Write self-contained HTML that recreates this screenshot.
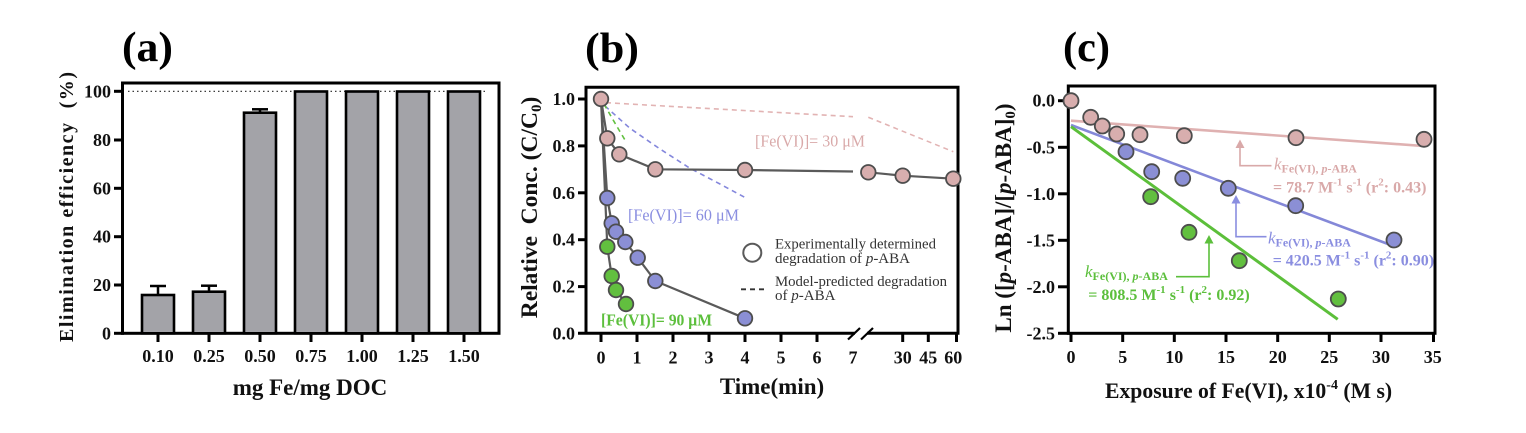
<!DOCTYPE html>
<html>
<head>
<meta charset="utf-8">
<style>
  html,body{margin:0;padding:0;background:#fff;}
  svg{display:block;}
  text{font-family:"Liberation Serif","Times New Roman",serif;}
  .pre{white-space:pre;}
</style>
</head>
<body>
<svg width="1526" height="433" viewBox="0 0 1526 433" xmlns="http://www.w3.org/2000/svg">
<rect x="0" y="0" width="1526" height="433" fill="#fff"/>

<!-- ================= PANEL (a) ================= -->
<g>
  <text x="122" y="61" font-size="42" font-weight="bold" textLength="51" lengthAdjust="spacingAndGlyphs">(a)</text>

  <!-- dotted 100% line -->
  <line x1="128" y1="91.3" x2="486" y2="91.3" stroke="#222" stroke-width="1.2" stroke-dasharray="1.5 3"/>

  <!-- frame -->
  <rect x="122.5" y="83" width="376.5" height="250.3" fill="none" stroke="#000" stroke-width="3"/>
  <line x1="114" y1="333.3" x2="124" y2="333.3" stroke="#000" stroke-width="3"/>
  <!-- y ticks -->
  <g stroke="#000" stroke-width="3">
    <line x1="114" y1="285" x2="123" y2="285"/>
    <line x1="114" y1="236.7" x2="123" y2="236.7"/>
    <line x1="114" y1="188.3" x2="123" y2="188.3"/>
    <line x1="114" y1="140" x2="123" y2="140"/>
    <line x1="114" y1="91.3" x2="123" y2="91.3"/>
  </g>
  <!-- x ticks -->
  <g stroke="#000" stroke-width="3">
    <line x1="158" y1="333" x2="158" y2="342"/>
    <line x1="209" y1="333" x2="209" y2="342"/>
    <line x1="260" y1="333" x2="260" y2="342"/>
    <line x1="311" y1="333" x2="311" y2="342"/>
    <line x1="362" y1="333" x2="362" y2="342"/>
    <line x1="413" y1="333" x2="413" y2="342"/>
    <line x1="464" y1="333" x2="464" y2="342"/>
  </g>

  <!-- error bars -->
  <g stroke="#000" stroke-width="2.5">
    <line x1="158" y1="295" x2="158" y2="286"/><line x1="150" y1="286" x2="166" y2="286"/>
    <line x1="209" y1="291.7" x2="209" y2="285.7"/><line x1="201" y1="285.7" x2="217" y2="285.7"/>
    <line x1="260" y1="112.7" x2="260" y2="109.3"/><line x1="252" y1="109.3" x2="268" y2="109.3"/>
  </g>
  <!-- bars -->
  <g fill="#a3a3a8" stroke="#000" stroke-width="2.6">
    <rect x="142" y="295" width="32" height="38.3"/>
    <rect x="193" y="291.7" width="32" height="41.6"/>
    <rect x="244" y="112.7" width="32" height="220.6"/>
    <rect x="295" y="91.5" width="32" height="241.8"/>
    <rect x="346" y="91.5" width="32" height="241.8"/>
    <rect x="397" y="91.5" width="32" height="241.8"/>
    <rect x="448" y="91.5" width="32" height="241.8"/>
  </g>

  <!-- y tick labels -->
  <g font-size="18" font-weight="bold" text-anchor="end" fill="#111">
    <text x="111" y="339.3">0</text>
    <text x="111" y="291">20</text>
    <text x="111" y="242.7">40</text>
    <text x="111" y="194.3">60</text>
    <text x="111" y="146">80</text>
    <text x="111" y="97.3">100</text>
  </g>
  <!-- x tick labels -->
  <g font-size="18" font-weight="bold" text-anchor="middle" fill="#111">
    <text x="158" y="362">0.10</text>
    <text x="209" y="362">0.25</text>
    <text x="260" y="362">0.50</text>
    <text x="311" y="362">0.75</text>
    <text x="362" y="362">1.00</text>
    <text x="413" y="362">1.25</text>
    <text x="464" y="362">1.50</text>
  </g>
  <text x="310" y="395" font-size="23" font-weight="bold" text-anchor="middle" fill="#111">mg Fe/mg DOC</text>
  <text class="pre" transform="translate(73,207) rotate(-90)" font-size="20" font-weight="bold" text-anchor="middle" fill="#111" textLength="270">Elimination efficiency  (%)</text>
</g>

<!-- ================= PANEL (b) ================= -->
<g>
  <text x="585" y="62" font-size="42" font-weight="bold" textLength="54" lengthAdjust="spacingAndGlyphs">(b)</text>

  <!-- frame -->
  <path d="M586,333.3 V87.3 H958 V333.3" fill="none" stroke="#000" stroke-width="3"/>
  <line x1="578" y1="333.3" x2="855" y2="333.3" stroke="#000" stroke-width="3"/>
  <line x1="867" y1="333.3" x2="959.5" y2="333.3" stroke="#000" stroke-width="3"/>
  <line x1="848" y1="339.5" x2="860" y2="328" stroke="#000" stroke-width="2.2"/>
  <line x1="861" y1="339.5" x2="873" y2="328" stroke="#000" stroke-width="2.2"/>
  <!-- y ticks -->
  <g stroke="#000" stroke-width="3">
    <line x1="578" y1="99" x2="587" y2="99"/>
    <line x1="578" y1="145.9" x2="587" y2="145.9"/>
    <line x1="578" y1="192.8" x2="587" y2="192.8"/>
    <line x1="578" y1="239.7" x2="587" y2="239.7"/>
    <line x1="578" y1="286.6" x2="587" y2="286.6"/>
  </g>
  <!-- x ticks -->
  <g stroke="#000" stroke-width="3">
    <line x1="601" y1="333" x2="601" y2="342"/>
    <line x1="637" y1="333" x2="637" y2="342"/>
    <line x1="673" y1="333" x2="673" y2="342"/>
    <line x1="709" y1="333" x2="709" y2="342"/>
    <line x1="745" y1="333" x2="745" y2="342"/>
    <line x1="781" y1="333" x2="781" y2="342"/>
    <line x1="817" y1="333" x2="817" y2="342"/>
    <line x1="902.7" y1="333" x2="902.7" y2="342"/>
    <line x1="928.3" y1="333" x2="928.3" y2="342"/>
    <line x1="956.5" y1="333" x2="956.5" y2="342"/>
  </g>

  <!-- model dashed lines -->
  <g fill="none" stroke-width="1.6" stroke-dasharray="5 4">
    <polyline points="606,102.7 853,116.7" stroke="#e2b3b3"/>
    <polyline points="868.3,117.3 953.3,151.7" stroke="#e2b3b3"/>
    <polyline points="605,106 630,128.3 660,149 690,168.3 720,184 745,197.5" stroke="#8487dc"/>
    <polyline points="604,104 612,118 619,130 625,140" stroke="#62c040"/>
  </g>

  <!-- experimental lines -->
  <g fill="none" stroke="#5a5a5a" stroke-width="2.2">
    <polyline points="601,99 607.3,138.3 619.3,154.3 655.3,169.3 745,170 853,171.5"/>
    <polyline points="868.3,172.3 902.7,175.7 953.3,178.7"/>
    <polyline points="601,99 607.3,198 611.7,223.3 616,231.7 625.3,242 637.7,257.7 655.3,281 745,318.3"/>
    <polyline points="601,99 607.3,246.7 611.7,276 616,290 626,304"/>
  </g>

  <!-- markers -->
  <g stroke="#4d4d4d" stroke-width="1.8">
    <g fill="#62bf3f">
      <circle cx="607.3" cy="246.7" r="7.3"/>
      <circle cx="611.7" cy="276" r="7.3"/>
      <circle cx="616" cy="290" r="7.3"/>
      <circle cx="626" cy="304" r="7.3"/>
    </g>
    <g fill="#8b8fd5">
      <circle cx="607.3" cy="198" r="7.3"/>
      <circle cx="611.7" cy="223.3" r="7.3"/>
      <circle cx="616" cy="231.7" r="7.3"/>
      <circle cx="625.3" cy="242" r="7.3"/>
      <circle cx="637.7" cy="257.7" r="7.3"/>
      <circle cx="655.3" cy="281" r="7.3"/>
      <circle cx="745" cy="318.3" r="7.3"/>
    </g>
    <g fill="#d8aeae">
      <circle cx="607.3" cy="138.3" r="7.3"/>
      <circle cx="619.3" cy="154.3" r="7.3"/>
      <circle cx="655.3" cy="169.3" r="7.3"/>
      <circle cx="745" cy="170" r="7.3"/>
      <circle cx="868.3" cy="172.3" r="7.3"/>
      <circle cx="902.7" cy="175.7" r="7.3"/>
      <circle cx="953.3" cy="178.7" r="7.3"/>
      <circle cx="601" cy="99" r="7.3"/>
    </g>
  </g>

  <!-- series labels -->
  <text x="755" y="146.5" font-size="17" fill="#d9a9a9" textLength="110" lengthAdjust="spacingAndGlyphs">[Fe(VI)]= 30 μM</text>
  <text x="628" y="220.5" font-size="17" fill="#8a8ee0" textLength="111" lengthAdjust="spacingAndGlyphs">[Fe(VI)]= 60 μM</text>
  <text x="601" y="325.5" font-size="17" font-weight="bold" fill="#5cbf3c" textLength="111" lengthAdjust="spacingAndGlyphs">[Fe(VI)]= 90 μM</text>

  <!-- legend -->
  <circle cx="752.3" cy="252.7" r="9" fill="#fff" stroke="#5a5a5a" stroke-width="2"/>
  <line x1="741" y1="289.3" x2="767" y2="289.3" stroke="#333" stroke-width="1.8" stroke-dasharray="5 4"/>
  <g font-size="15" fill="#333">
    <text x="775" y="248.5" textLength="161" lengthAdjust="spacingAndGlyphs">Experimentally determined</text>
    <text x="775" y="263">degradation of <tspan font-style="italic">p</tspan>-ABA</text>
    <text x="775" y="286" textLength="172" lengthAdjust="spacingAndGlyphs">Model-predicted degradation</text>
    <text x="775" y="300">of <tspan font-style="italic">p</tspan>-ABA</text>
  </g>

  <!-- tick labels -->
  <g font-size="18" font-weight="bold" text-anchor="end" fill="#111">
    <text x="575" y="105">1.0</text>
    <text x="575" y="151.9">0.8</text>
    <text x="575" y="198.8">0.6</text>
    <text x="575" y="245.7">0.4</text>
    <text x="575" y="292.6">0.2</text>
    <text x="575" y="339.3">0.0</text>
  </g>
  <g font-size="18" font-weight="bold" text-anchor="middle" fill="#111">
    <text x="601" y="363.5">0</text>
    <text x="637" y="363.5">1</text>
    <text x="673" y="363.5">2</text>
    <text x="709" y="363.5">3</text>
    <text x="745" y="363.5">4</text>
    <text x="781" y="363.5">5</text>
    <text x="817" y="363.5">6</text>
    <text x="853" y="363.5">7</text>
    <text x="902.7" y="363.5">30</text>
    <text x="928.3" y="363.5">45</text>
    <text x="953.3" y="363.5">60</text>
  </g>
  <text x="772" y="394" font-size="23" font-weight="bold" text-anchor="middle" fill="#111">Time(min)</text>
  <text class="pre" transform="translate(537,207.5) rotate(-90)" font-size="23.5" font-weight="bold" text-anchor="middle" fill="#111">Relative  Conc. (C/C<tspan font-size="15" dy="4">0</tspan><tspan dy="-4">)</tspan></text>
</g>

<!-- ================= PANEL (c) ================= -->
<g>
  <text x="1063" y="61" font-size="42" font-weight="bold" textLength="47" lengthAdjust="spacingAndGlyphs">(c)</text>

  <rect x="1068.3" y="86" width="366.7" height="247.3" fill="none" stroke="#000" stroke-width="3"/>
  <line x1="1058" y1="333.3" x2="1070" y2="333.3" stroke="#000" stroke-width="3"/>
  <g stroke="#000" stroke-width="3">
    <line x1="1058" y1="100.7" x2="1069" y2="100.7"/>
    <line x1="1058" y1="147.3" x2="1069" y2="147.3"/>
    <line x1="1058" y1="193.8" x2="1069" y2="193.8"/>
    <line x1="1058" y1="240.3" x2="1069" y2="240.3"/>
    <line x1="1058" y1="286.8" x2="1069" y2="286.8"/>
  </g>
  <g stroke="#000" stroke-width="3">
    <line x1="1071" y1="333" x2="1071" y2="342"/>
    <line x1="1122.7" y1="333" x2="1122.7" y2="342"/>
    <line x1="1174.3" y1="333" x2="1174.3" y2="342"/>
    <line x1="1226" y1="333" x2="1226" y2="342"/>
    <line x1="1277.7" y1="333" x2="1277.7" y2="342"/>
    <line x1="1329.3" y1="333" x2="1329.3" y2="342"/>
    <line x1="1381" y1="333" x2="1381" y2="342"/>
    <line x1="1433.5" y1="333" x2="1433.5" y2="342"/>
  </g>

  <!-- regression lines -->
  <line x1="1071" y1="120.7" x2="1423.3" y2="146" stroke="#dfb1b1" stroke-width="2.6"/>
  <line x1="1071" y1="125" x2="1393.3" y2="246" stroke="#8488d8" stroke-width="2.6"/>
  <line x1="1071" y1="126.7" x2="1337.7" y2="319.3" stroke="#5cbf3a" stroke-width="3"/>

  <!-- arrows -->
  <g fill="none" stroke-width="1.6">
    <polyline points="1271.5,165.7 1240,165.7 1240,146" stroke="#d9a9a9"/>
    <polyline points="1266.5,236.7 1236,236.7 1236,202" stroke="#8a8ee0"/>
    <polyline points="1176,276.7 1209,276.7 1209,242" stroke="#5cbf3c"/>
  </g>
  <polygon points="1240,139.5 1235.5,148 1244.5,148" fill="#d9a9a9"/>
  <polygon points="1236,195 1231.5,203.5 1240.5,203.5" fill="#8a8ee0"/>
  <polygon points="1209,235 1204.5,243.5 1213.5,243.5" fill="#5cbf3c"/>

  <!-- markers -->
  <g stroke="#4d4d4d" stroke-width="1.8">
    <g fill="#d8aeae">
      <circle cx="1071" cy="100.7" r="7.5"/>
      <circle cx="1090.7" cy="117.3" r="7.5"/>
      <circle cx="1102.3" cy="126" r="7.5"/>
      <circle cx="1116.7" cy="134" r="7.5"/>
      <circle cx="1140" cy="134.7" r="7.5"/>
      <circle cx="1184.3" cy="135.7" r="7.5"/>
      <circle cx="1296" cy="137.7" r="7.5"/>
      <circle cx="1424" cy="139.3" r="7.5"/>
    </g>
    <g fill="#8b8fd5">
      <circle cx="1126" cy="151.7" r="7.5"/>
      <circle cx="1151.7" cy="171.7" r="7.5"/>
      <circle cx="1182.7" cy="178.3" r="7.5"/>
      <circle cx="1228.3" cy="188.3" r="7.5"/>
      <circle cx="1295.7" cy="205.7" r="7.5"/>
      <circle cx="1394" cy="240" r="7.5"/>
    </g>
    <g fill="#62bf3f">
      <circle cx="1150.7" cy="196.7" r="7.5"/>
      <circle cx="1189" cy="232.3" r="7.5"/>
      <circle cx="1239.3" cy="260.7" r="7.5"/>
      <circle cx="1338.3" cy="299" r="7.5"/>
    </g>
  </g>

  <!-- annotations -->
  <g font-weight="bold">
    <text x="1274" y="169.5" font-size="17" fill="#d9a9a9"><tspan font-style="italic" font-weight="normal">k</tspan><tspan font-size="12" dy="3">Fe(VI), <tspan font-style="italic">p</tspan>-ABA</tspan></text>
    <text x="1273" y="192.5" font-size="16" fill="#d9a9a9">= 78.7 M<tspan font-size="11" dy="-7">-1</tspan><tspan dy="7"> s</tspan><tspan font-size="11" dy="-7">-1</tspan><tspan dy="7"> (r</tspan><tspan font-size="11" dy="-7">2</tspan><tspan dy="7">: 0.43)</tspan></text>

    <text x="1268" y="243.5" font-size="17" fill="#8a8ee0"><tspan font-style="italic" font-weight="normal">k</tspan><tspan font-size="12" dy="3">Fe(VI), <tspan font-style="italic">p</tspan>-ABA</tspan></text>
    <text x="1272.7" y="265.5" font-size="16" fill="#8a8ee0">= 420.5 M<tspan font-size="11" dy="-7">-1</tspan><tspan dy="7"> s</tspan><tspan font-size="11" dy="-7">-1</tspan><tspan dy="7"> (r</tspan><tspan font-size="11" dy="-7">2</tspan><tspan dy="7">: 0.90)</tspan></text>

    <text x="1085" y="277" font-size="17" fill="#5cbf3c"><tspan font-style="italic" font-weight="normal">k</tspan><tspan font-size="12" dy="3">Fe(VI), <tspan font-style="italic">p</tspan>-ABA</tspan></text>
    <text x="1088.3" y="300" font-size="16" fill="#5cbf3c">= 808.5 M<tspan font-size="11" dy="-7">-1</tspan><tspan dy="7"> s</tspan><tspan font-size="11" dy="-7">-1</tspan><tspan dy="7"> (r</tspan><tspan font-size="11" dy="-7">2</tspan><tspan dy="7">: 0.92)</tspan></text>
  </g>

  <!-- tick labels -->
  <g font-size="18" font-weight="bold" text-anchor="end" fill="#111">
    <text x="1055" y="106.7">0.0</text>
    <text x="1055" y="153.3">-0.5</text>
    <text x="1055" y="199.8">-1.0</text>
    <text x="1055" y="246.3">-1.5</text>
    <text x="1055" y="292.8">-2.0</text>
    <text x="1055" y="339.3">-2.5</text>
  </g>
  <g font-size="18" font-weight="bold" text-anchor="middle" fill="#111">
    <text x="1071" y="363">0</text>
    <text x="1122.7" y="363">5</text>
    <text x="1174.3" y="363">10</text>
    <text x="1226" y="363">15</text>
    <text x="1277.7" y="363">20</text>
    <text x="1329.3" y="363">25</text>
    <text x="1381" y="363">30</text>
    <text x="1432.7" y="363">35</text>
  </g>
  <text x="1105" y="398" font-size="21.7" font-weight="bold" fill="#111">Exposure of Fe(VI), x10<tspan font-size="14" dy="-9">-4</tspan><tspan dy="9"> (M s)</tspan></text>
  <text transform="translate(1011,218) rotate(-90)" font-size="23" font-weight="bold" text-anchor="middle" fill="#111">Ln ([<tspan font-style="italic">p</tspan>-ABA]/[<tspan font-style="italic">p</tspan>-ABA]<tspan font-size="15" dy="4">0</tspan><tspan dy="-4">)</tspan></text>
</g>
</svg>
</body>
</html>
